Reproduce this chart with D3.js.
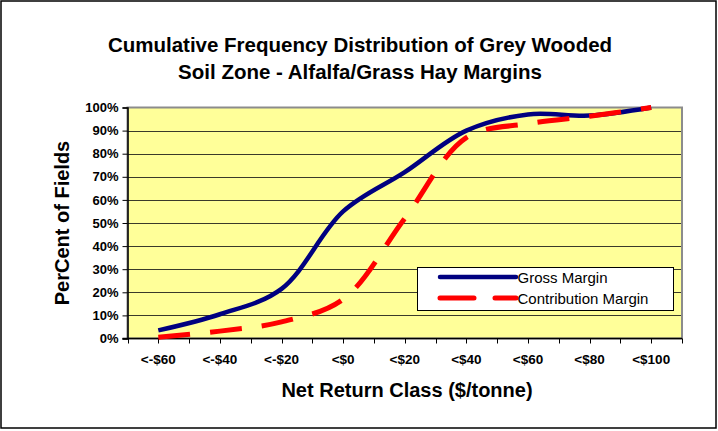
<!DOCTYPE html>
<html>
<head>
<meta charset="utf-8">
<script src="https://cdn.jsdelivr.net/npm/d3@7"></script>
<style>
	body { margin: 0; background: #fff; }
	svg { display: block; font-family: Arial, "Liberation Sans", sans-serif; }
</style>
</head>
<body>
<div id="chartbox"></div>
<script>
var categories = ["<-$60", "<-$40", "<-$20", "<$0", "<$20", "<$40", "<$60", "<$80", "<$100"];
var grossMargin = [3.5, 10.5, 21.5, 55, 72, 90, 97, 96.5, 100];
var contributionMargin = [0.5, 3.2, 7.2, 17, 52, 87, 93, 96.2, 100];
var yTicks = [0, 10, 20, 30, 40, 50, 60, 70, 80, 90, 100];
var titleLines = ["Cumulative Frequency Distribution of Grey Wooded", "Soil Zone - Alfalfa/Grass Hay Margins"];

var WIDTH = 718;
var HEIGHT = 431;
var plot = {left: 127.5, top: 107.5, right: 682, bottom: 338.5};

var svg = d3.select("#chartbox").append("svg")
	.attr("width", WIDTH)
	.attr("height", HEIGHT);

//outer chart border
svg.append("rect")
	.attr("x", 1)
	.attr("y", 1)
	.attr("width", WIDTH - 3)
	.attr("height", HEIGHT - 4)
	.attr("fill", "#fff")
	.attr("stroke", "#000")
	.attr("stroke-width", 1.5);

var x = d3.scalePoint()
	.domain(d3.range(categories.length))
	.range([plot.left, plot.right])
	.padding(0.5);

var y = d3.scaleLinear()
	.domain([0, 100])
	.range([plot.bottom, plot.top]);

//plot area
svg.append("rect")
	.attr("x", plot.left)
	.attr("y", plot.top)
	.attr("width", plot.right - plot.left)
	.attr("height", plot.bottom - plot.top)
	.attr("fill", "#ffff99")
	.attr("stroke", "#8c8c8c")
	.attr("stroke-width", 2);

//gridlines
svg.append("g")
	.selectAll("line")
	.data(yTicks.slice(1, -1))
	.enter().append("line")
	.attr("x1", plot.left)
	.attr("x2", plot.right - 1)
	.attr("y1", function(d) { return Math.round(y(d)) + 0.5; })
	.attr("y2", function(d) { return Math.round(y(d)) + 0.5; })
	.attr("stroke", "#3a3a2a")
	.attr("stroke-width", 1);

//y axis
var yAxis = svg.append("g")
	.attr("transform", "translate(" + plot.left + ",0)")
	.call(d3.axisLeft(y)
		.tickValues(yTicks)
		.tickSize(5)
		.tickPadding(4)
		.tickFormat(function(d) { return d + "%"; }));
yAxis.select(".domain").attr("stroke", "#000").attr("stroke-width", 1.5);
yAxis.selectAll(".tick line").attr("stroke", "#000");
yAxis.selectAll(".tick text")
	.attr("font-size", "13px")
	.attr("font-weight", "bold")
	.attr("font-family", "Arial, 'Liberation Sans', sans-serif")
	.attr("fill", "#000");

//x axis: ticks at band edges and centres, labels at centres
var step = x.step();
var xTickPos = d3.range(categories.length * 2 + 1).map(function(i) {
	return plot.left + i * step / 2;
});
var xAxis = svg.append("g");
xAxis.append("line")
	.attr("x1", plot.left - 5)
	.attr("x2", plot.right)
	.attr("y1", plot.bottom)
	.attr("y2", plot.bottom)
	.attr("stroke", "#000")
	.attr("stroke-width", 1.5);
xAxis.selectAll(".xtick")
	.data(xTickPos)
	.enter().append("line")
	.attr("class", "xtick")
	.attr("x1", function(d) { return Math.round(d) + 0.5; })
	.attr("x2", function(d) { return Math.round(d) + 0.5; })
	.attr("y1", plot.bottom)
	.attr("y2", plot.bottom + 5)
	.attr("stroke", "#000");
xAxis.selectAll(".xlabel")
	.data(categories)
	.enter().append("text")
	.attr("class", "xlabel")
	.attr("x", function(d, i) { return x(i); })
	.attr("y", plot.bottom + 25)
	.attr("text-anchor", "middle")
	.attr("font-size", "13.5px")
	.attr("font-weight", "bold")
	.text(function(d) { return d; });

//series
var line = d3.line()
	.x(function(d, i) { return x(i); })
	.y(function(d) { return y(d); })
	.curve(d3.curveCatmullRom.alpha(0.5));

svg.append("path")
	.datum(grossMargin)
	.attr("d", line)
	.attr("fill", "none")
	.attr("stroke", "#000080")
	.attr("stroke-width", 4.5)
	.attr("stroke-linejoin", "round");

svg.append("path")
	.datum(contributionMargin)
	.attr("d", line)
	.attr("fill", "none")
	.attr("stroke", "#ff0000")
	.attr("stroke-width", 5)
	.attr("stroke-dasharray", "32,20");

//titles
svg.append("g")
	.selectAll("text")
	.data(titleLines)
	.enter().append("text")
	.attr("x", 360)
	.attr("y", function(d, i) { return 52 + i * 27; })
	.attr("text-anchor", "middle")
	.attr("font-size", "20.5px")
	.attr("font-weight", "bold")
	.text(function(d) { return d; });

svg.append("text")
	.attr("x", 407)
	.attr("y", 397)
	.attr("text-anchor", "middle")
	.attr("font-size", "20px")
	.attr("font-weight", "bold")
	.text("Net Return Class ($/tonne)");

svg.append("text")
	.attr("transform", "translate(69," + ((plot.top + plot.bottom) / 2) + ") rotate(-90)")
	.attr("text-anchor", "middle")
	.attr("font-size", "20px")
	.attr("font-weight", "bold")
	.text("PerCent of Fields");

//legend
var legend = svg.append("g")
	.attr("transform", "translate(417.5,267.5)");
legend.append("rect")
	.attr("width", 256)
	.attr("height", 43)
	.attr("fill", "#fff")
	.attr("stroke", "#000");
var legendItems = [
	{name: "Gross Margin", color: "#000080", dash: null, width: 4.5},
	{name: "Contribution Margin", color: "#ff0000", dash: "34,21", width: 5}
];
legend.selectAll(".item")
	.data(legendItems)
	.enter().append("line")
	.attr("x1", 22.5)
	.attr("x2", 98.5)
	.attr("y1", function(d, i) { return 9.5 + i * 21; })
	.attr("y2", function(d, i) { return 9.5 + i * 21; })
	.attr("stroke", function(d) { return d.color; })
	.attr("stroke-width", function(d) { return d.width; })
	.attr("stroke-dasharray", function(d) { return d.dash; })
	.attr("stroke-linecap", "round");
legend.selectAll(".label")
	.data(legendItems)
	.enter().append("text")
	.attr("x", 100)
	.attr("y", function(d, i) { return 15 + i * 21; })
	.attr("font-size", "15px")
	.text(function(d) { return d.name; });
</script>
</body>
</html>
